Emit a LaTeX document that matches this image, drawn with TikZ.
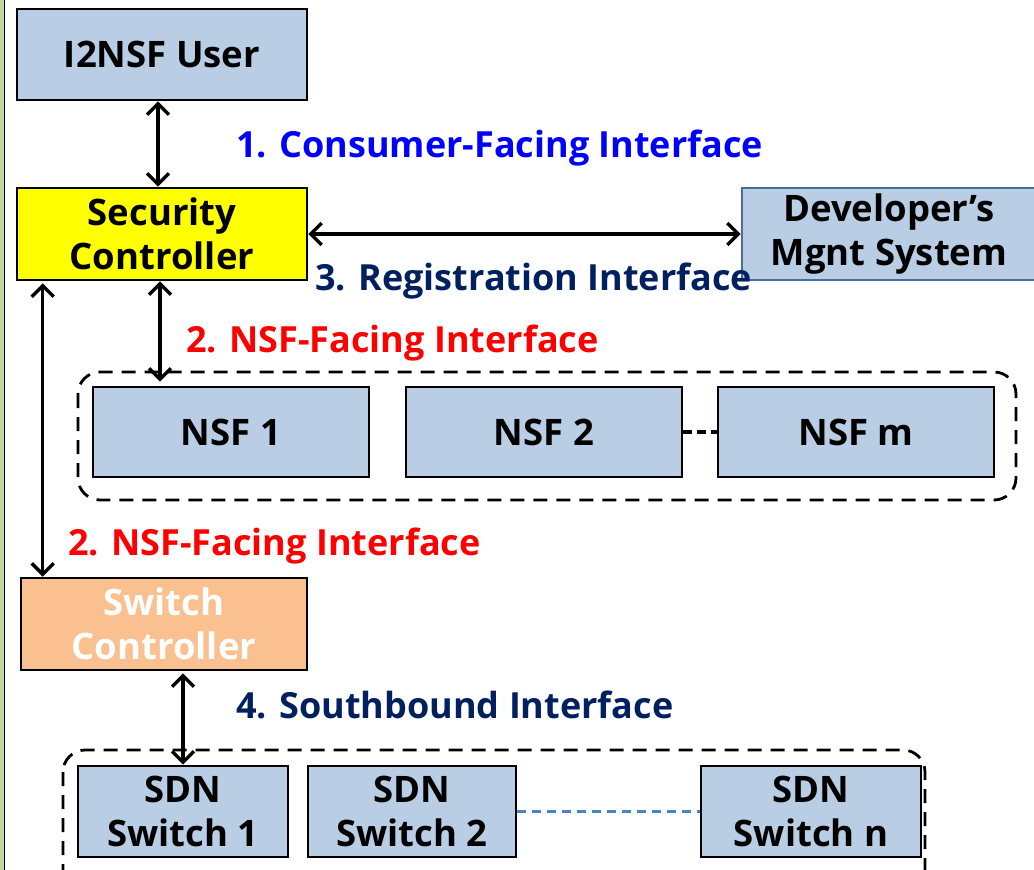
\documentclass[tikz,border=0pt]{standalone}
\usepackage{fontspec}
\setmainfont{Open Sans}
\usetikzlibrary{arrows.meta}
\definecolor{boxblue}{HTML}{B9CDE5}
\definecolor{ctrlyellow}{HTML}{FFFF00}
\definecolor{swcorange}{HTML}{FAC090}
\definecolor{devborder}{HTML}{41719C}
\definecolor{navy}{HTML}{002060}
\definecolor{lblblue}{HTML}{0000FF}
\definecolor{lblred}{HTML}{FF0000}
\definecolor{dashblue}{HTML}{4F81BD}
\definecolor{leftgreen}{HTML}{C3D69B}
\begin{document}
\begin{tikzpicture}[x=1pt,y=-1pt,
  box/.style={draw=black, line width=2.6pt, fill=boxblue, inner sep=0pt, align=center,
    font=\bfseries\fontsize{36.5}{44}\selectfont},
  lbl/.style={anchor=base west, inner sep=0pt, font=\bfseries\fontsize{36}{40}\selectfont},
  dar/.style={line width=3.4pt, {Straight Barb[length=11pt,width=22pt]}-{Straight Barb[length=11pt,width=22pt]}},
  groupbox/.style={draw=black, line width=2.8pt, dash pattern=on 14pt off 9pt, rounded corners=22pt}
]
\useasboundingbox (0,0) rectangle (1034,870);
\fill[white] (0,0) rectangle (1034,870);
% left edge strip
\fill[leftgreen] (0,0) rectangle (4,870);
\draw[black, line width=1.8pt] (4.5,0) -- (4.5,870);

% group containers
\draw[groupbox] (78,372) rectangle (1016,500);
\draw[groupbox] (63,750) rectangle (925,895);

% boxes
\node[box, minimum width=290, minimum height=91] (user) at (162,54.5) {I2NSF User};
\node[box, fill=ctrlyellow, minimum width=290, minimum height=92] (sc) at (162,234) {Security\\Controller};
\node[box, draw=devborder, minimum width=294, minimum height=92] (dev) at (889,234) {Developer’s\\Mgnt System};

\node[box, minimum width=276, minimum height=90] (nsf1) at (231,432) {NSF 1};
\node[box, minimum width=276, minimum height=90] (nsf2) at (544,432) {NSF 2};
\node[box, minimum width=276, minimum height=90] (nsfm) at (856,432) {NSF m};

\node[box, fill=swcorange, text=white, minimum width=286, minimum height=92] (swc) at (164,624) {Switch\\Controller};

\node[box, minimum width=210, minimum height=91] (sdn1) at (183,811.5) {SDN\\Switch 1};
\node[box, minimum width=208, minimum height=91] (sdn2) at (412,811.5) {SDN\\Switch 2};
\node[box, minimum width=220, minimum height=91] (sdnn) at (811,811.5) {SDN\\Switch n};

% connectors
\draw[dar] ([xshift=-4pt]user.south) -- ([xshift=-4pt]sc.north);
\draw[dar] (sc.east) -- (dev.west);
\draw[dar] ([xshift=-2pt]sc.south) -- ([xshift=-2pt,yshift=4pt]sc.south |- nsf1.north);
\draw[dar] ([xshift=27pt,yshift=-2pt]sc.south west) -- ([xshift=27pt]sc.south west |- swc.north);
\draw[dar] ([xshift=19pt,yshift=-2pt]swc.south) -- ([xshift=19pt]swc.south |- sdn1.north);

\draw[black, line width=3.4pt, dash pattern=on 9pt off 5pt] (nsf2.east) -- (nsfm.west);
\draw[dashblue, line width=3.4pt, dash pattern=on 9pt off 6pt] (sdn2.east) -- (sdnn.west);

% labels
\node[lbl, text=lblblue] (l1) at (236,157) {1. Consumer-Facing Interface};
\node[lbl, text=navy] (l3) at (315,290) {3. Registration Interface};
\node[lbl, text=lblred] (l2a) at (186,352) {2. NSF-Facing Interface};
\node[lbl, text=lblred] (l2b) at (68,555) {2. NSF-Facing Interface};
\node[lbl, text=navy] (l4) at (236,718) {4. Southbound Interface};
\end{tikzpicture}
\end{document}
